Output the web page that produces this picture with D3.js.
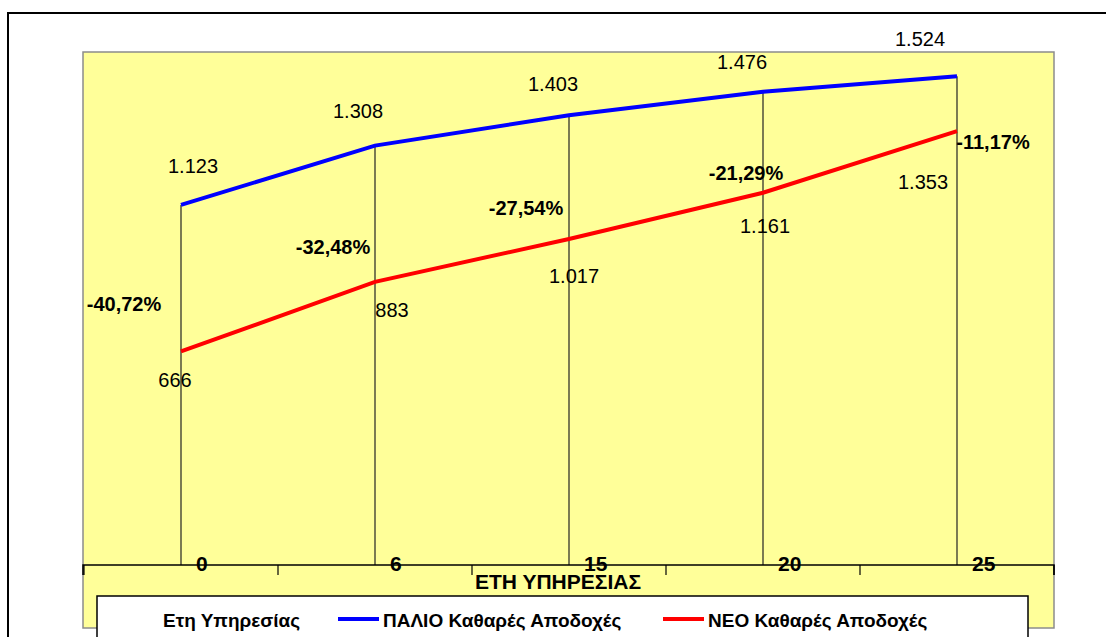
<!DOCTYPE html>
<html>
<head>
<meta charset="utf-8">
<script src="https://cdn.jsdelivr.net/npm/d3@7"></script>
<style>
  body { margin: 0; background: #fff; }
  svg { display: block; font-family: "Liberation Sans", Arial, sans-serif; }
</style>
</head>
<body>
<script>
// Data
const years = ["0", "6", "15", "20", "25"];
const oldPay = [1123, 1308, 1403, 1476, 1524];   // ΠΑΛΙΟ Καθαρές Αποδοχές
const newPay = [666, 883, 1017, 1161, 1353];     // ΝΕΟ Καθαρές Αποδοχές
const pctDiff = [-40.72, -32.48, -27.54, -21.29, -11.17];
const seriesNames = ["Ετη Υπηρεσίας", "ΠΑΛΙΟ Καθαρές Αποδοχές", "ΝΕΟ Καθαρές Αποδοχές"];
const axisTitle = "ΕΤΗ ΥΠΗΡΕΣΙΑΣ";

// Label placement (pixel offsets from the point, as hand-placed in the original)
const oldLabelOff = [[12, -39], [-17, -35], [-16, -31], [-21, -30], [-37, -37]];
const newLabelOff = [[-6, 29], [17, 28], [5, 37], [2, 33], [-34, 51]];
const pctLabelOff = [[-57, -47], [-42, -35], [-43, -31], [-17, -20], [36, 11]];

const W = 1106, H = 637;
const plot = { left: 83, right: 1054, top: 52, bottom: 628 };
const axisY = 565;

const grLocale = d3.formatLocale({ decimal: ",", thousands: ".", grouping: [3], currency: ["", "€"], minus: "-" });
const fmtVal = grLocale.format(",d");
const fmtPct = grLocale.format(".2f");

const svg = d3.select("body").append("svg")
  .attr("width", W)
  .attr("height", H);

// Outer chart frame (runs off the right and bottom edges)
svg.append("rect")
  .attr("x", 8).attr("y", 13)
  .attr("width", 1200).attr("height", 700)
  .attr("fill", "#fff")
  .attr("stroke", "#000")
  .attr("stroke-width", 2);

// Plot area
svg.append("rect")
  .attr("x", plot.left).attr("y", plot.top)
  .attr("width", plot.right - plot.left)
  .attr("height", plot.bottom - plot.top)
  .attr("fill", "#ffff99")
  .attr("stroke", "#8c8c8c")
  .attr("stroke-width", 1.5);

// Scales
const x = d3.scaleBand().domain(years).range([plot.left + 1, plot.right]).padding(0);
const y = d3.scaleLinear().domain([0, 1600]).range([axisY, plot.top]);
const cx = d => x(d) + x.bandwidth() / 2;

// Drop lines from the upper series down to the axis
svg.selectAll(".drop")
  .data(years)
  .enter().append("line")
  .attr("class", "drop")
  .attr("x1", d => cx(d)).attr("x2", d => cx(d))
  .attr("y1", (d, i) => y(oldPay[i]))
  .attr("y2", axisY)
  .attr("stroke", "#222")
  .attr("stroke-width", 1.2);

// X axis
const xAxis = d3.axisBottom(x).tickSize(10).tickFormat("");
const gx = svg.append("g")
  .attr("transform", "translate(0," + axisY + ")")
  .call(xAxis);
gx.select(".domain").attr("stroke", "#000").attr("stroke-width", 1.5)
  .attr("d", "M" + plot.left + ",10V0H" + plot.right + "V10");
gx.selectAll(".tick").remove();
// ticks sit on the band boundaries
const bounds = years.map(d => x(d)).concat([plot.right]);
gx.selectAll(".bt")
  .data(bounds)
  .enter().append("line")
  .attr("x1", d => d).attr("x2", d => d)
  .attr("y1", 0).attr("y2", 10)
  .attr("stroke", "#000")
  .attr("stroke-width", 1.2);

// Category labels, placed just right of each drop line
svg.selectAll(".xlab")
  .data(years)
  .enter().append("text")
  .attr("x", d => cx(d) + 15)
  .attr("y", 571)
  .attr("font-size", "21px")
  .attr("font-weight", "bold")
  .attr("fill", "#000")
  .text(d => d);

// Axis title
svg.append("text")
  .attr("x", 558)
  .attr("y", 589)
  .attr("text-anchor", "middle")
  .attr("font-size", "21px")
  .attr("font-weight", "bold")
  .text(axisTitle);

// Lines
const line = d3.line()
  .x((d, i) => cx(years[i]))
  .y(d => y(d));

svg.append("path")
  .datum(oldPay)
  .attr("d", line)
  .attr("fill", "none")
  .attr("stroke", "#0000ff")
  .attr("stroke-width", 4);

svg.append("path")
  .datum(newPay)
  .attr("d", line)
  .attr("fill", "none")
  .attr("stroke", "#ff0000")
  .attr("stroke-width", 4);

// Value labels
function labels(values, anchorVals, offsets, fmt, bold) {
  svg.append("g").selectAll("text")
    .data(values)
    .enter().append("text")
    .attr("x", (d, i) => cx(years[i]) + offsets[i][0])
    .attr("y", (d, i) => y(anchorVals[i]) + offsets[i][1])
    .attr("dy", "0.35em")
    .attr("text-anchor", "middle")
    .attr("font-size", "20px")
    .attr("font-weight", bold ? "bold" : "normal")
    .attr("fill", "#000")
    .text(fmt);
}
labels(oldPay, oldPay, oldLabelOff, d => fmtVal(d), false);
labels(newPay, newPay, newLabelOff, d => fmtVal(d), false);
labels(pctDiff, newPay, pctLabelOff, d => fmtPct(d) + "%", true);

// Legend
const legend = svg.append("g");
legend.append("rect")
  .attr("x", 97).attr("y", 596)
  .attr("width", 931).attr("height", 80)
  .attr("fill", "#fff")
  .attr("stroke", "#000")
  .attr("stroke-width", 1.5);

const legendItems = [
  { name: seriesNames[0], color: null, x: 163 },
  { name: seriesNames[1], color: "#0000ff", x: 338 },
  { name: seriesNames[2], color: "#ff0000", x: 663 }
];
legendItems.forEach(function(it) {
  let tx = it.x;
  if (it.color) {
    legend.append("line")
      .attr("x1", it.x).attr("x2", it.x + 41)
      .attr("y1", 619).attr("y2", 619)
      .attr("stroke", it.color)
      .attr("stroke-width", 4);
    tx = it.x + 45;
  }
  legend.append("text")
    .attr("x", tx)
    .attr("y", 627)
    .attr("font-size", "19px")
    .attr("font-weight", "bold")
    .attr("fill", "#000")
    .text(it.name);
});
</script>
</body>
</html>
